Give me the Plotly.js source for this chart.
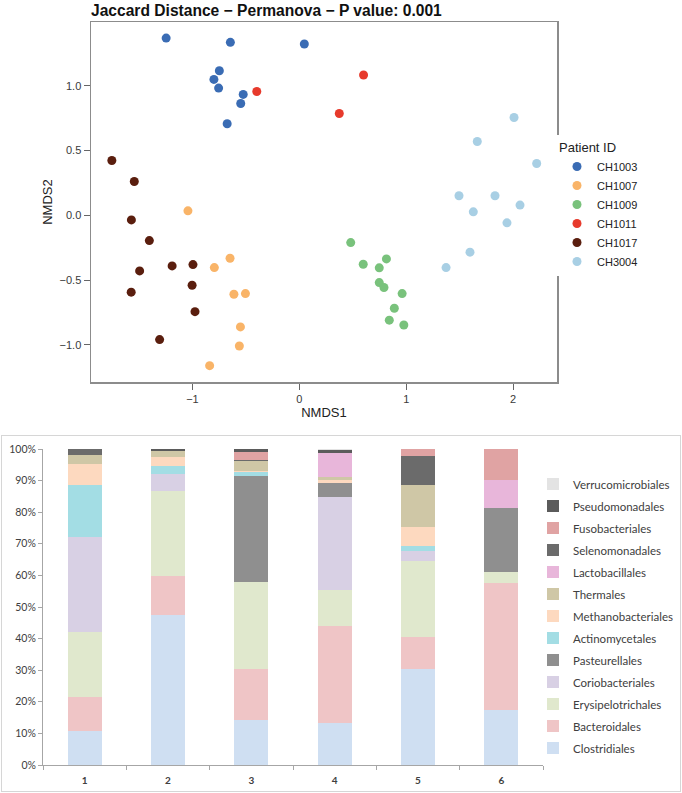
<!DOCTYPE html>
<html>
<head>
<meta charset="utf-8">
<script src="https://cdn.plot.ly/plotly-3.0.1.min.js"></script>
<style>
  body { margin: 0; background: #ffffff; width: 682px; height: 793px; position: relative; overflow: hidden; }
  #nmds { position: absolute; left: 0; top: 0; width: 682px; height: 430px; }
  #bars { position: absolute; left: 1px; top: 435px; width: 680px; height: 357px; box-sizing: border-box; border: 1px solid #d6d6d6; }
</style>
</head>
<body>
<div id="nmds"></div>
<div id="bars"></div>
<script>
// NMDS ordination points per patient
const patients = ["CH1003", "CH1007", "CH1009", "CH1011", "CH1017", "CH3004"];
const patientColors = ["#3a6cb4", "#f9b468", "#79c27c", "#e73a2c", "#5a1e0e", "#a8cfe4"];

const ch1003X = [-1.246, -0.645, 0.047, -0.748, -0.799, -0.755, -0.525, -0.548, -0.675];
const ch1003Y = [1.368, 1.335, 1.322, 1.116, 1.049, 0.982, 0.933, 0.863, 0.707];
const ch1007X = [-1.042, -0.648, -0.795, -0.612, -0.504, -0.551, -0.561, -0.839];
const ch1007Y = [0.035, -0.331, -0.403, -0.609, -0.604, -0.861, -1.008, -1.160];
const ch1009X = [0.481, 0.598, 0.815, 0.748, 0.748, 0.792, 0.962, 0.889, 0.842, 0.978];
const ch1009Y = [-0.210, -0.377, -0.336, -0.405, -0.519, -0.557, -0.604, -0.717, -0.809, -0.846];
const ch1011X = [-0.398, 0.601, 0.374];
const ch1011Y = [0.956, 1.083, 0.786];
const ch1017X = [-1.754, -1.544, -1.571, -1.403, -1.494, -1.190, -0.995, -1.003, -1.573, -0.976, -1.307];
const ch1017Y = [0.423, 0.261, -0.035, -0.195, -0.429, -0.390, -0.380, -0.539, -0.593, -0.743, -0.959];
const ch3004X = [2.009, 1.665, 2.221, 1.494, 1.831, 2.065, 1.628, 1.943, 1.597, 1.373];
const ch3004Y = [0.755, 0.570, 0.400, 0.151, 0.151, 0.079, 0.027, -0.058, -0.284, -0.403];

// relative abundance (%) per sample, one array per order
const samples = ["1", "2", "3", "4", "5", "6"];
const orders = ["Clostridiales", "Bacteroidales", "Erysipelotrichales", "Coriobacteriales", "Pasteurellales",
  "Actinomycetales", "Methanobacteriales", "Thermales", "Lactobacillales", "Selenomonadales",
  "Fusobacteriales", "Pseudomonadales", "Verrucomicrobiales"];
const clostridiales = [10.9, 47.5, 14.3, 13.4, 30.5, 17.3];
const bacteroidales = [10.7, 12.4, 16.0, 30.7, 9.9, 40.2];
const erysipelotrichales = [20.4, 26.9, 27.5, 11.3, 24.3, 3.7];
const coriobacteriales = [30.0, 5.3, 0, 29.4, 2.9, 0];
const pasteurellales = [0, 0, 33.8, 4.6, 0, 20.1];
const actinomycetales = [16.5, 2.4, 1.0, 0, 1.8, 0];
const methanobacteriales = [6.9, 3.0, 0.5, 0.8, 5.8, 0];
const thermales = [2.6, 1.8, 3.0, 0.9, 13.5, 0];
const lactobacillales = [0, 0, 0, 7.7, 0, 9.0];
const selenomonadales = [2.0, 0, 0.5, 0, 9.0, 0];
const fusobacteriales = [0, 0, 2.6, 0, 2.3, 9.7];
const pseudomonadales = [0, 0.7, 0.8, 0.9, 0, 0];
const verrucomicrobiales = [0, 0, 0, 0.3, 0, 0];
const orderColors = ["#cfdff2", "#efc5c6", "#e0e8cd", "#d8d0e4", "#8f8f8f", "#a3dde4", "#fdd9bf",
  "#cfc7a6", "#e8b6da", "#6b6b6b", "#e0a3a3", "#5b5b5b", "#e3e3e3"];

function axisColor() {
  return "#8c8c8c";
}

function renderNmds(container) {
  const xs = [ch1003X, ch1007X, ch1009X, ch1011X, ch1017X, ch3004X];
  const ys = [ch1003Y, ch1007Y, ch1009Y, ch1011Y, ch1017Y, ch3004Y];
  const traces = patients.map((name, i) => ({
    x: xs[i],
    y: ys[i],
    type: "scatter",
    mode: "markers",
    name: name,
    marker: { color: patientColors[i], size: 9 },
    hoverinfo: "skip",
  }));

  const tickFont = { family: "Liberation Sans, Arial, sans-serif", size: 11, color: "#3a3a3a" };
  const layout = {
    width: 682,
    height: 430,
    margin: { l: 91, r: 125, t: 22, b: 48, autoexpand: false },
    paper_bgcolor: "#ffffff",
    plot_bgcolor: "#ffffff",
    font: { family: "Liberation Sans, Arial, sans-serif", color: "#222222" },
    title: {
      text: "<b>Jaccard Distance − Permanova − P value: 0.001</b>",
      font: { size: 15.6, color: "#111111" },
      xref: "paper", x: 0, xanchor: "left",
      yref: "container", y: 1 - 11 / 430, yanchor: "middle",
    },
    xaxis: {
      range: [-1.949, 2.411],
      tickvals: [-1, 0, 1, 2],
      showgrid: false, zeroline: false,
      showline: true, mirror: true, linecolor: axisColor(), linewidth: 1.5,
      ticks: "outside", ticklen: 6, tickcolor: "#666666",
      tickfont: tickFont,
      title: { text: "NMDS1", font: { size: 13 }, standoff: 2 },
    },
    yaxis: {
      range: [-1.286, 1.492],
      tickvals: [-1, -0.5, 0, 0.5, 1],
      tickformat: ".1f",
      showgrid: false, zeroline: false,
      showline: true, mirror: true, linecolor: axisColor(), linewidth: 1.5,
      ticks: "outside", ticklen: 6, tickcolor: "#666666",
      tickfont: tickFont,
      title: { text: "NMDS2", font: { size: 13 }, standoff: 4 },
    },
    legend: {
      title: { text: "Patient ID", font: { size: 13, color: "#222222" } },
      font: { size: 11, color: "#222222" },
      x: 1.0, xanchor: "left",
      y: 0.49, yanchor: "middle",
      itemwidth: 30,
    },
  };

  Plotly.newPlot(container, traces, layout, { displayModeBar: false, staticPlot: true });
}

function renderBars(container) {
  const series = [clostridiales, bacteroidales, erysipelotrichales, coriobacteriales, pasteurellales,
    actinomycetales, methanobacteriales, thermales, lactobacillales, selenomonadales,
    fusobacteriales, pseudomonadales, verrucomicrobiales];
  const traces = orders.map((name, i) => ({
    x: samples,
    y: series[i],
    type: "bar",
    name: name,
    legendgroup: name,
    legendrank: 1000 - i,
    marker: { color: orderColors[i], line: { width: 0 } },
    hoverinfo: "skip",
  }));

  const layout = {
    width: 678,
    height: 355,
    margin: { l: 41, r: 137, t: 13, b: 26, autoexpand: false },
    paper_bgcolor: "#ffffff",
    plot_bgcolor: "#ffffff",
    font: { family: "Lato, sans-serif", color: "#404040" },
    barmode: "stack",
    bargap: 0.59,
    xaxis: {
      type: "category",
      showgrid: false, zeroline: false,
      showline: true, linecolor: "#a6a6a6", linewidth: 1,
      ticks: "outside", tickson: "boundaries", ticklen: 4, tickcolor: "#a6a6a6",
      ticklabelstandoff: 6,
      tickfont: { size: 10, color: "#404040", weight: "bold" },
    },
    yaxis: {
      range: [0, 100],
      dtick: 10,
      ticksuffix: "%",
      showgrid: false, zeroline: false,
      showline: true, linecolor: "#a6a6a6", linewidth: 1,
      ticks: "outside", ticklen: 4, tickcolor: "#a6a6a6",
      tickfont: { size: 10.5, color: "#404040" },
    },
    legend: {
      font: { size: 11.5, color: "#404040" },
      traceorder: "grouped",
      tracegroupgap: 3,
      x: 0.98, xanchor: "left",
      y: 0.935, yanchor: "top",
      itemwidth: 30,
    },
  };

  Plotly.newPlot(container, traces, layout, { displayModeBar: false, staticPlot: true });
}

renderNmds(document.getElementById("nmds"));
renderBars(document.getElementById("bars"));
</script>
</body>
</html>
